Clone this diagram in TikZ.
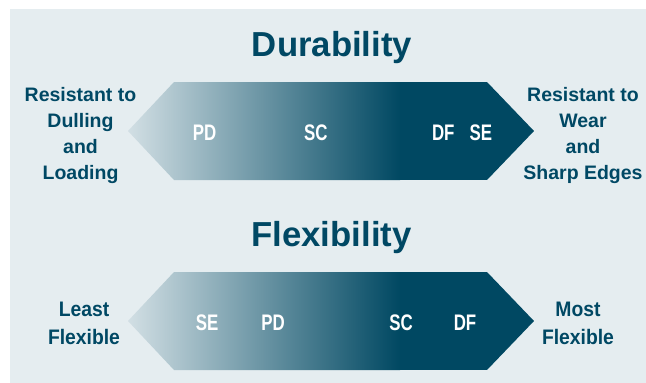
\documentclass[tikz,border=0pt]{standalone}
\usepackage{fontspec}
\setmainfont{Liberation Sans}
\newfontfamily\condfont{Liberation Sans}[FakeStretch=0.75]
\newfontfamily\semicondfont{Liberation Sans}[FakeStretch=0.92]
\definecolor{bgpanel}{RGB}{229,237,240}
\definecolor{deep}{RGB}{0,72,98}
\definecolor{pale}{RGB}{210,223,228}
\definecolor{ink}{RGB}{0,72,100}
\tikzset{
  titletext/.style={font=\fontsize{34.7}{40}\selectfont\bfseries, text=ink, anchor=base, inner sep=0pt},
  sidetext/.style={font=\fontsize{19.5}{26.2}\selectfont\bfseries, text=ink, align=center, anchor=north, inner sep=0pt},
  flextext/.style={font=\semicondfont\fontsize{21}{28}\selectfont\bfseries, text=ink, align=center, anchor=north, inner sep=0pt},
  tagtext/.style={font=\condfont\fontsize{22.5}{26}\selectfont\bfseries, text=white, anchor=base, inner sep=0pt}
}
\newcommand\gradarrow{%
  \begin{scope}
    \clip (128,131) -- (174,82) -- (487,82) -- (534,131) -- (487,180) -- (174,180) -- cycle;
    \shade[left color=pale, right color=deep] (128,82) rectangle (400,180);
    \fill[deep] (399.5,82) rectangle (535,180);
  \end{scope}}
\begin{document}
\begin{tikzpicture}[x=1pt,y=-1pt]
\useasboundingbox (0,0) rectangle (646,383);
\fill[bgpanel] (10,9) rectangle (646,383);

% arrows
\gradarrow
\begin{scope}[shift={(0,190)}]
  \gradarrow
\end{scope}

% titles
\node[titletext] (durtitle) at (332,56.7) {Durability};
\node[titletext] (flextitle) at (331.5,246.7) {Flexibility};

% durability side labels
\node[sidetext] (dulling) at (80.5,86.7) {Resistant to\\Dulling\\and\\Loading};
\node[sidetext] (wear) at (583,86.7) {Resistant to\\Wear\\and\\Sharp Edges};

% flexibility side labels
\node[flextext] (least) at (84,302.3) {Least\\Flexible};
\node[flextext] (most) at (578,302.3) {Most\\Flexible};

% durability tags
\node[tagtext] (dpd) at (204.7,140.5) {PD};
\node[tagtext] (dsc) at (315.8,140.5) {SC};
\node[tagtext] (ddf) at (443.3,140.5) {DF};
\node[tagtext] (dse) at (480.8,140.5) {SE};

% flexibility tags
\node[tagtext] (fse) at (207.2,330.7) {SE};
\node[tagtext] (fpd) at (273,330.7) {PD};
\node[tagtext] (fsc) at (401.2,330.7) {SC};
\node[tagtext] (fdf) at (465,330.7) {DF};
\end{tikzpicture}
\end{document}
